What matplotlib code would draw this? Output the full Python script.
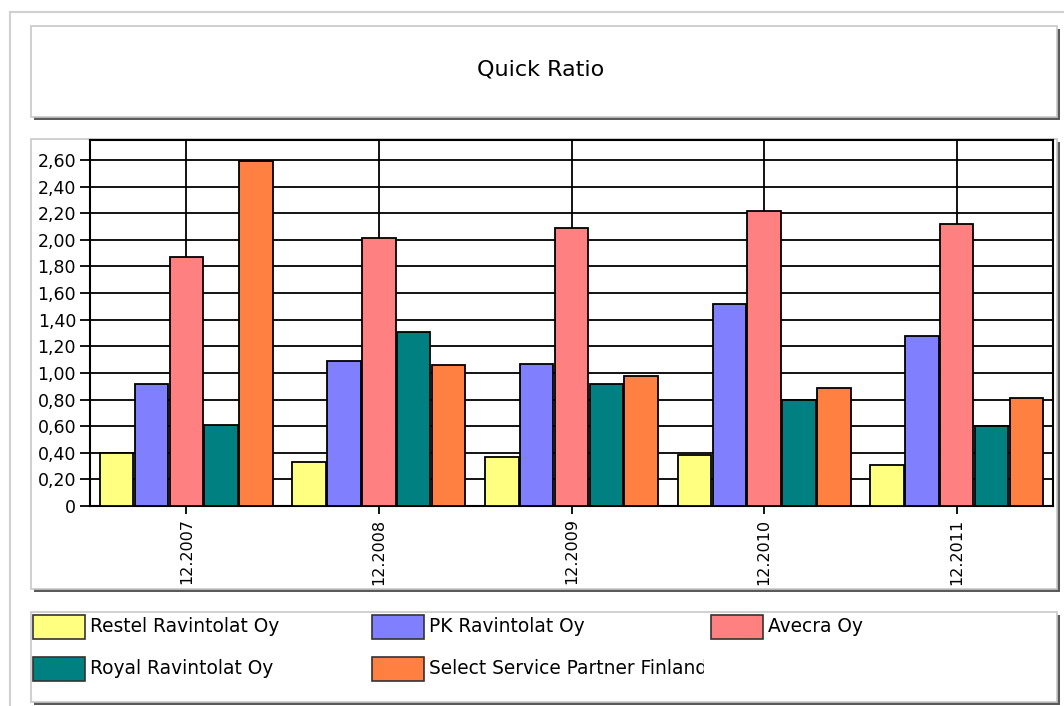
import matplotlib
matplotlib.use("Agg")
import matplotlib.pyplot as plt
from matplotlib.patches import Rectangle
from matplotlib.transforms import Bbox, TransformedBbox
import numpy as np

plt.rcParams['font.family'] = ['DejaVu Sans']

categories = ["12.2007", "12.2008", "12.2009", "12.2010", "12.2011"]
series_names = ["Restel Ravintolat Oy", "PK Ravintolat Oy", "Avecra Oy",
                "Royal Ravintolat Oy", "Select Service Partner Finland"]
restel = [0.40, 0.33, 0.37, 0.38, 0.31]
pk = [0.92, 1.09, 1.07, 1.52, 1.28]
avecra = [1.87, 2.01, 2.09, 2.22, 2.12]
royal = [0.61, 1.31, 0.92, 0.80, 0.60]
select = [2.59, 1.06, 0.98, 0.89, 0.81]
series_values = [restel, pk, avecra, royal, select]
colors = ["#FFFF80", "#8080FF", "#FF8080", "#008080", "#FF8040"]
yticks = [0, 0.2, 0.4, 0.6, 0.8, 1.0, 1.2, 1.4, 1.6, 1.8, 2.0, 2.2, 2.4, 2.6]
ytick_labels = ["0" if v == 0 else f"{v:.2f}".replace(".", ",") for v in yticks]

W, H = 1064, 706
fig = plt.figure(figsize=(W / 100, H / 100), dpi=100)
fig.patch.set_facecolor("white")

# overlay axes in pixel coordinates
ov = fig.add_axes([0, 0, 1, 1], zorder=0)
ov.set_xlim(0, W)
ov.set_ylim(H, 0)
ov.axis("off")

# outer frame lines
ov.plot([10, W], [12, 12], color="#d0d0d0", lw=1.5)
ov.plot([10, 10], [12, H], color="#d0d0d0", lw=1.5)

def panel(x0, y0, x1, y1):
    ov.add_patch(Rectangle((x0 + 3, y0 + 3), x1 - x0, y1 - y0, facecolor="#5a5a5a",
                           edgecolor="none", zorder=1))
    ov.add_patch(Rectangle((x0, y0), x1 - x0, y1 - y0, facecolor="white",
                           edgecolor="#c8c8c8", lw=1.2, zorder=2))

panel(31, 26, 1057, 117)
panel(31, 139, 1057, 589)
panel(31, 612, 1057, 702)

ov.text(541, 70, "Quick Ratio", ha="center", va="center", fontsize=16, zorder=3)

# legend entries
leg_pos = [(33, 615), (372, 615), (711, 615), (33, 657), (372, 657)]
col_right = {33: 368, 372: 704, 711: 1055}
for (lx, ly), name, c in zip(leg_pos, series_names, colors):
    ov.add_patch(Rectangle((lx, ly), 52, 24, facecolor=c, edgecolor="#333333",
                           lw=1.2, zorder=3))
    t = ov.text(lx + 57, ly + 12, name, ha="left", va="center", fontsize=13.4, zorder=3)
    x0f = (lx + 50) / W
    x1f = col_right[lx] / W
    y0f = (H - (ly + 35)) / H
    y1f = (H - (ly - 10)) / H
    t.set_clip_box(TransformedBbox(Bbox([[x0f, y0f], [x1f, y1f]]), fig.transFigure))
    t.set_clip_on(True)

# main plot axes
left, right, top, bottom = 90, 1053, 140, 506
ax = fig.add_axes([left / W, (H - bottom) / H, (right - left) / W, (bottom - top) / H], zorder=2)
x = np.arange(len(categories))
bw = 0.181
for i, (vals, c) in enumerate(zip(series_values, colors)):
    ax.bar(x + (i - 2) * bw, vals, width=bw * 0.96, color=c, edgecolor="black",
           linewidth=1.3, zorder=3)

ax.set_xlim(-0.5, len(categories) - 0.5)
ax.set_ylim(0, 2.75)
ax.set_yticks(yticks)
ax.set_yticklabels(ytick_labels, fontsize=12.5)
ax.set_xticks(x)
ax.set_xticklabels(categories, rotation=90, fontsize=11.5)
ax.grid(True, color="black", lw=1.3, zorder=0)
ax.set_axisbelow(True)
ax.tick_params(axis="y", length=7, width=1.3, pad=3, color="black")
ax.tick_params(axis="x", length=6, width=1.3, pad=3, color="black")
for s in ax.spines.values():
    s.set_linewidth(1.5)
    s.set_color("black")

fig.savefig("out.png", dpi=100, facecolor="white")
